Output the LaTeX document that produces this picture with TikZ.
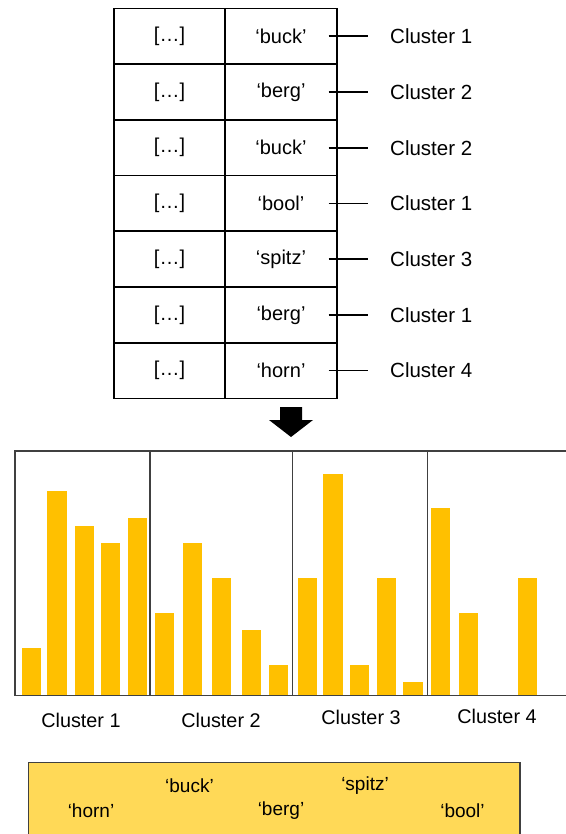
\documentclass[tikz,border=0pt]{standalone}
\usepackage{fontspec}
\setmainfont{Liberation Sans}
\definecolor{bar}{HTML}{FFC000}
\definecolor{boxfill}{HTML}{FFD957}
\definecolor{frame}{HTML}{404040}
\begin{document}
\begin{tikzpicture}[x=1pt,y=-1pt,
  cell/.style={draw=black,line width=1.8pt,minimum width=111.5pt,minimum height=55.7pt,inner sep=0pt,
    font=\fontsize{20}{24}\selectfont},
  clab/.style={anchor=west,inner sep=0pt,font=\fontsize{20.5}{24}\selectfont},
  conn/.style={line width=1.8pt,black},
  barf/.style={fill=bar},
  blab/.style={inner sep=0pt,font=\fontsize{19.8}{24}\selectfont},
  word/.style={inner sep=0pt,font=\fontsize{19}{23}\selectfont}]
\useasboundingbox (0,0) rectangle (565,834);
% table
\foreach \i/\w/\c in {1/buck/1,2/berg/2,3/buck/2,4/bool/1,5/spitz/3,6/berg/1,7/horn/4}{
  \pgfmathsetmacro{\yy}{8.5+55.7*(\i-0.5)}
  \node[cell] (l\i) at (169.5,\yy) {[…]};
  \node[cell] (r\i) at (281,\yy) {‘\w’};
  \node[clab] (k\i) at (390,\yy) {Cluster \c};
  \draw[conn] ([xshift=-9pt]r\i.east) -- ([xshift=-22pt]k\i.west);
}
% arrow
\fill[black] (280,407) -- (302,407) -- (302,420) -- (313,420) -- (291,437) -- (269,420) -- (280,420) -- cycle;
% bars
\foreach \xa/\t in {21.7/647.7, 47.3/490.7, 74.5/525.7, 100.8/542.7, 127.8/518.3,
                    155/612.7, 183/543, 212/577.7, 241.5/630, 269/665.3,
                    297.7/577.7, 323.3/474, 350.2/665.3, 376.7/577.7, 403.3/681.7,
                    431/508, 459/612.7, 517.5/577.7}{
  \fill[barf] (\xa,\t) rectangle ++(19.2,695.7-\t);
}
% chart frame
\draw[frame,line width=1.5pt] (15,451) rectangle (568,695.7);
\draw[frame,line width=1.5pt] (150,451) -- (150,695.7);
\draw[frame,line width=1.5pt] (292.3,451) -- (292.3,695.7);
\draw[frame,line width=1.5pt] (427.5,451) -- (427.5,695.7);
\node[blab] (g1) at (81,720) {Cluster 1};
\node[blab] (g2) at (221,720) {Cluster 2};
\node[blab] (g3) at (361,717) {Cluster 3};
\node[blab] (g4) at (497,716.5) {Cluster 4};
% bottom box
\draw[frame,fill=boxfill,line width=1.4pt] (28.3,762.7) rectangle (520,845);
\node[word] (wbuck) at (189.5,786) {‘buck’};
\node[word] (wspitz) at (365,786) {‘spitz’};
\node[word] (whorn) at (91,811) {‘horn’};
\node[word] (wberg) at (281,811) {‘berg’};
\node[word] (wbool) at (462.5,811) {‘bool’};
\end{tikzpicture}
\end{document}
